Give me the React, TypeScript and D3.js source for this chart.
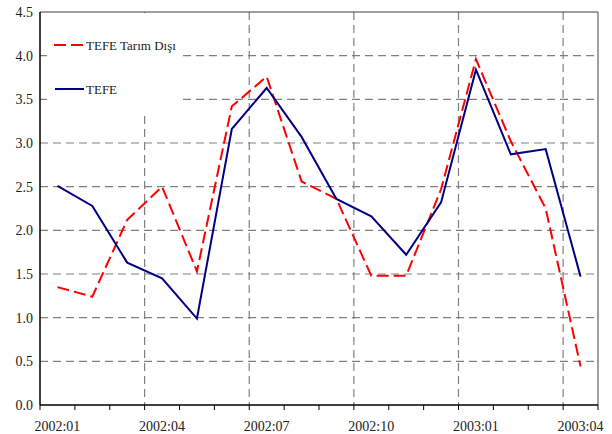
import React from "react";
import * as d3 from "d3";

// monthly inflation, %
const months = [
  "2002:01", "2002:02", "2002:03", "2002:04", "2002:05", "2002:06", "2002:07", "2002:08",
  "2002:09", "2002:10", "2002:11", "2002:12", "2003:01", "2003:02", "2003:03", "2003:04",
];
const tefeTarimDisi = [1.35, 1.24, 2.12, 2.5, 1.53, 3.42, 3.76, 2.56, 2.36, 1.48, 1.48, 2.47, 3.96, 3.02, 2.25, 0.44];
const tefe = [2.51, 2.28, 1.63, 1.45, 0.99, 3.16, 3.63, 3.07, 2.36, 2.16, 1.72, 2.32, 3.84, 2.87, 2.93, 1.47];
const yTicks = [0, 0.5, 1, 1.5, 2, 2.5, 3, 3.5, 4, 4.5];
const labelEvery = 3;

const W = 612;
const H = 434;
const left = 40;
const right = 598;
const top = 12;
const bottom = 405;
const font = "'Liberation Serif', 'Times New Roman', serif";

export default function App() {
  const x = d3.scaleBand<string>().domain(months).range([left, right]).padding(0);
  const y = d3.scaleLinear().domain([0, 4.5]).range([bottom, top]);
  const bw = x.bandwidth();
  const cx = (m: string) => (x(m) as number) + bw / 2;

  const line = (vals: number[]) =>
    d3.line<number>().x((_, i) => cx(months[i])).y((v) => y(v))(vals) as string;

  const boundaries = months.map((m) => x(m) as number).concat([right]);
  const vGrid = months.filter((_, i) => i > 0 && i % labelEvery === 0);

  return (
    <svg width={W} height={H} style={{ position: "absolute", left: 0, top: 0 }} fontFamily={font}>
      <rect width={W} height={H} fill="#fff" />
      {/* grid */}
      {yTicks.filter((t) => t > 0 && t < 4.5).map((t) => (
        <line key={t} x1={left} x2={right} y1={y(t)} y2={y(t)} stroke="#808080" strokeWidth={1.2} strokeDasharray="8,5" />
      ))}
      {vGrid.map((m) => (
        <line key={m} x1={x(m)} x2={x(m)} y1={top} y2={bottom} stroke="#808080" strokeWidth={1.2} strokeDasharray="8,5" />
      ))}
      {/* legend box hides grid */}
      <rect x={47} y={top + 1} width={133} height={98} fill="#fff" />
      {/* frame */}
      <line x1={left} x2={right} y1={top} y2={top} stroke="#404040" strokeWidth={1.2} />
      <line x1={right} x2={right} y1={top} y2={bottom} stroke="#808080" strokeWidth={1.5} />
      <line x1={left} x2={left} y1={top} y2={bottom} stroke="#000" strokeWidth={1.5} />
      <line x1={left} x2={right} y1={bottom} y2={bottom} stroke="#000" strokeWidth={1.5} />
      {boundaries.map((b, i) => (
        <line key={i} x1={b} x2={b} y1={bottom} y2={bottom + 5} stroke="#000" strokeWidth={1} />
      ))}
      {/* y labels */}
      {yTicks.map((t) => (
        <text key={t} x={33} y={y(t)} dy="0.35em" textAnchor="end" fontSize={14} fill="#222">
          {t.toFixed(1)}
        </text>
      ))}
      {/* x labels */}
      {months.map((m, i) =>
        i % labelEvery === 0 ? (
          <text key={m} x={cx(m)} y={431} textAnchor="middle" fontSize={14} fill="#222">
            {m}
          </text>
        ) : null
      )}
      {/* series */}
      <path d={line(tefeTarimDisi)} fill="none" stroke="#ff0000" strokeWidth={2} strokeDasharray="12,5" />
      <path d={line(tefe)} fill="none" stroke="#000080" strokeWidth={2} />
      {/* legend */}
      <line x1={54} x2={84} y1={45} y2={45} stroke="#ff0000" strokeWidth={2} strokeDasharray="12,5" />
      <text x={86} y={49.5} fontSize={13} fill="#222">TEFE Tarım Dışı</text>
      <line x1={55} x2={84} y1={89} y2={89} stroke="#000080" strokeWidth={2} />
      <text x={86} y={93.5} fontSize={13} fill="#222">TEFE</text>
    </svg>
  );
}
